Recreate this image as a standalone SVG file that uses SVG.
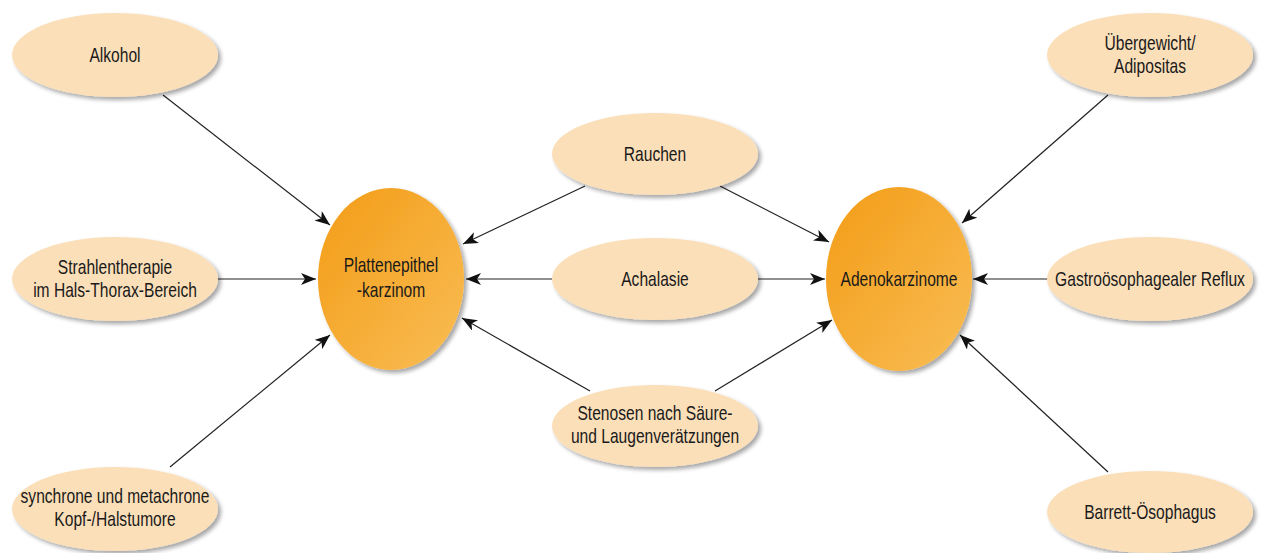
<svg xmlns="http://www.w3.org/2000/svg" width="1262" height="553" viewBox="0 0 1262 553">
<defs>
<style>
.s{fill:#FBDFB9}
.t{font-family:"Liberation Sans",Arial,sans-serif;font-size:20px;fill:#1a1a1a;text-anchor:middle}
.c{stroke:#222;stroke-width:1.2;fill:none;marker-end:url(#ah)}
</style>
<linearGradient id="og" x1="0" y1="0" x2="1" y2="1">
<stop offset="0" stop-color="#F39C16"/>
<stop offset="1" stop-color="#F9BD55"/>
</linearGradient>
<filter id="sh" x="-20%" y="-20%" width="150%" height="150%">
<feGaussianBlur in="SourceAlpha" stdDeviation="2"/>
<feOffset dx="3" dy="3" result="b"/>
<feComponentTransfer><feFuncA type="linear" slope="0.35"/></feComponentTransfer>
<feMerge><feMergeNode/><feMergeNode in="SourceGraphic"/></feMerge>
</filter>
<marker id="ah" markerWidth="16" markerHeight="12" refX="15" refY="6" orient="auto" markerUnits="userSpaceOnUse">
<path d="M0,0 L15,6 L0,12 L4,6 z" fill="#111"/>
</marker>
</defs>
<rect width="1262" height="553" fill="#fff"/>
<g id="connectors">
<line class="c" x1="163" y1="95" x2="330" y2="225"/>
<line class="c" x1="218" y1="279" x2="316" y2="279"/>
<line class="c" x1="170" y1="467" x2="330" y2="335"/>
<line class="c" x1="585" y1="186" x2="463" y2="244"/>
<line class="c" x1="552" y1="279" x2="466" y2="279"/>
<line class="c" x1="590" y1="391" x2="462" y2="318"/>
<line class="c" x1="720" y1="186" x2="829" y2="242"/>
<line class="c" x1="758" y1="279" x2="825" y2="279"/>
<line class="c" x1="715" y1="391" x2="832" y2="320"/>
<line class="c" x1="1108" y1="95" x2="962" y2="223"/>
<line class="c" x1="1048" y1="279" x2="973" y2="279"/>
<line class="c" x1="1108" y1="472" x2="960" y2="335"/>
</g>
<g id="alkohol"><ellipse class="s" cx="115" cy="55" rx="103" ry="42" filter="url(#sh)"/><text class="t" transform="translate(115,0) scale(0.78,1)" x="0" y="62">Alkohol</text></g>
<g id="strahlentherapie"><ellipse class="s" cx="115" cy="279" rx="103" ry="42" filter="url(#sh)"/><text class="t" transform="translate(115,0) scale(0.78,1)" x="0" y="274">Strahlentherapie</text><text class="t" transform="translate(115,0) scale(0.78,1)" x="0" y="297">im Hals-Thorax-Bereich</text></g>
<g id="synchrone"><ellipse class="s" cx="115" cy="509" rx="103" ry="42" filter="url(#sh)"/><text class="t" transform="translate(115,0) scale(0.78,1)" x="0" y="503">synchrone und metachrone</text><text class="t" transform="translate(115,0) scale(0.78,1)" x="0" y="526">Kopf-/Halstumore</text></g>
<g id="rauchen"><ellipse class="s" cx="655" cy="154" rx="103" ry="41" filter="url(#sh)"/><text class="t" transform="translate(655,0) scale(0.78,1)" x="0" y="161">Rauchen</text></g>
<g id="achalasie"><ellipse class="s" cx="655" cy="279" rx="103" ry="41" filter="url(#sh)"/><text class="t" transform="translate(655,0) scale(0.78,1)" x="0" y="286">Achalasie</text></g>
<g id="stenosen"><ellipse class="s" cx="655" cy="426" rx="103" ry="41" filter="url(#sh)"/><text class="t" transform="translate(655,0) scale(0.78,1)" x="0" y="420">Stenosen nach Säure-</text><text class="t" transform="translate(655,0) scale(0.78,1)" x="0" y="443">und Laugenverätzungen</text></g>
<g id="uebergewicht"><ellipse class="s" cx="1150" cy="55" rx="103" ry="42" filter="url(#sh)"/><text class="t" transform="translate(1150,0) scale(0.78,1)" x="0" y="50">Übergewicht/</text><text class="t" transform="translate(1150,0) scale(0.78,1)" x="0" y="73">Adipositas</text></g>
<g id="reflux"><ellipse class="s" cx="1150" cy="279" rx="103" ry="42" filter="url(#sh)"/><text class="t" transform="translate(1150,0) scale(0.78,1)" x="0" y="286">Gastroösophagealer Reflux</text></g>
<g id="barrett"><ellipse class="s" cx="1150" cy="512" rx="103" ry="41" filter="url(#sh)"/><text class="t" transform="translate(1150,0) scale(0.78,1)" x="0" y="519">Barrett-Ösophagus</text></g>
<g id="plattenepithelkarzinom"><ellipse cx="391" cy="279" rx="73" ry="91" fill="url(#og)" filter="url(#sh)"/><text class="t" transform="translate(391,0) scale(0.78,1)" x="0" y="272">Plattenepithel</text><text class="t" transform="translate(391,0) scale(0.78,1)" x="0" y="297">-karzinom</text></g>
<g id="adenokarzinome"><ellipse cx="899" cy="279" rx="73" ry="92" fill="url(#og)" filter="url(#sh)"/><text class="t" transform="translate(899,0) scale(0.78,1)" x="0" y="286">Adenokarzinome</text></g>
</svg>
